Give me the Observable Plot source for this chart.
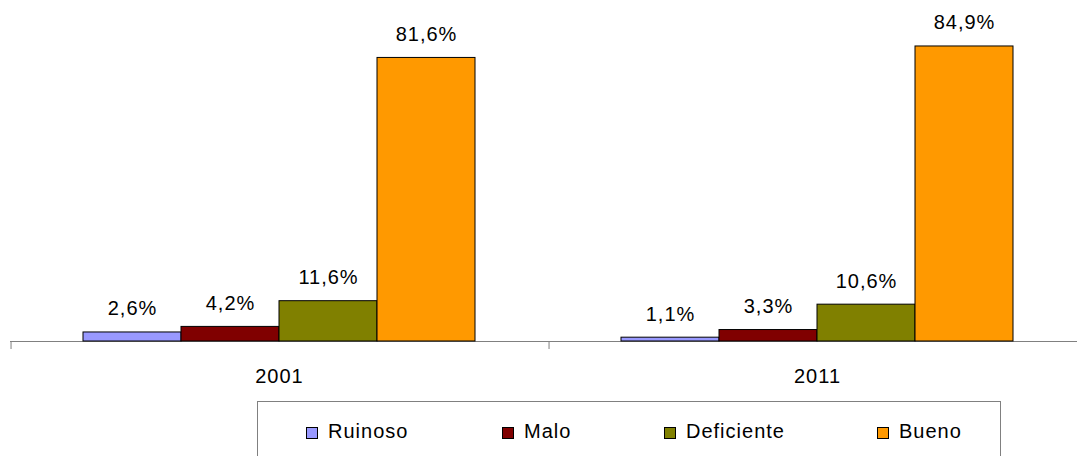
<!DOCTYPE html>
<html>
<head>
<meta charset="utf-8">
<script src="https://cdn.jsdelivr.net/npm/d3@7"></script>
<script src="https://cdn.jsdelivr.net/npm/@observablehq/plot@0.6"></script>
<style>
  html, body { margin: 0; padding: 0; background: #fff; overflow: hidden; }
  body { font-family: "Liberation Sans", Arial, sans-serif; }
  #legend { position: relative; margin-left: 257px; width: 744px; height: 60px; border: 1px solid #808080; box-sizing: border-box; }
  .sw { position: absolute; width: 12px; height: 12px; border: 1px solid #000; box-sizing: border-box; top: 25px; }
  .lt { position: absolute; top: 18px; font-size: 20px; line-height: 23px; color: #000; white-space: nowrap; letter-spacing: 1px; }
</style>
</head>
<body>
<div id="chart"></div>
<div id="legend"></div>
<script>
const years = ["2001", "2011"];
const categories = ["Ruinoso", "Malo", "Deficiente", "Bueno"];
const values2001 = [2.6, 4.2, 11.6, 81.6];
const values2011 = [1.1, 3.3, 10.6, 84.9];
const colors = ["#9999FF", "#800000", "#808000", "#FF9900"];

const series = {"2001": values2001, "2011": values2011};
const data = years.flatMap(year => categories.map((cat, i) => ({year, cat, value: series[year][i]})));
const fmt = d => d.value.toFixed(1).replace(".", ",") + "%";

const font = "'Liberation Sans', Arial, sans-serif";
const facetStart = 9.5, facetEnd = 1085.5;
const paddingOuter = 0.735;
const step = (facetEnd - facetStart) / years.length / (categories.length + 2 * paddingOuter);

const chart = Plot.plot({
  width: 1077,
  height: 401,
  marginTop: 0,
  marginLeft: 10,
  marginRight: 0,
  marginBottom: 52,
  style: {fontFamily: font, fontSize: "20px", background: "#fff", color: "#000", letterSpacing: "1px"},
  fx: {domain: years, range: [facetStart, facetEnd], padding: 0, label: null},
  x: {domain: categories, paddingInner: 0, paddingOuter: paddingOuter, axis: null},
  y: {domain: [0, 100], range: [341, -6.5], axis: null},
  color: {domain: categories, range: colors},
  marks: [
    Plot.ruleY([0], {stroke: "#808080", strokeWidth: 1}),
    Plot.ruleX(years, {fx: d => d, x: () => categories[0], y1: () => 0, y2: () => 0, insetBottom: -8, dx: -(step / 2 + step * paddingOuter), stroke: "#808080", strokeWidth: 1}),
    Plot.barY(data, {fx: "year", x: "cat", y: "value", fill: "cat", stroke: "#000", strokeWidth: 1}),
    Plot.text(data, {fx: "year", x: "cat", y: "value", text: fmt, dy: -17, lineAnchor: "bottom", fontSize: 20, fill: "#000"}),
    Plot.axisFx({anchor: "bottom", tickSize: 0, tickPadding: 19, fontSize: 20, label: null, fill: "#000"})
  ]
});
document.getElementById("chart").appendChild(chart);

const legend = document.getElementById("legend");
const swLeft = [48, 244, 406, 619];
categories.forEach((cat, i) => {
  const sw = document.createElement("div");
  sw.className = "sw";
  sw.style.left = swLeft[i] + "px";
  sw.style.background = colors[i];
  legend.appendChild(sw);
  const t = document.createElement("div");
  t.className = "lt";
  t.style.left = (swLeft[i] + 22) + "px";
  t.textContent = cat;
  legend.appendChild(t);
});
</script>
</body>
</html>
